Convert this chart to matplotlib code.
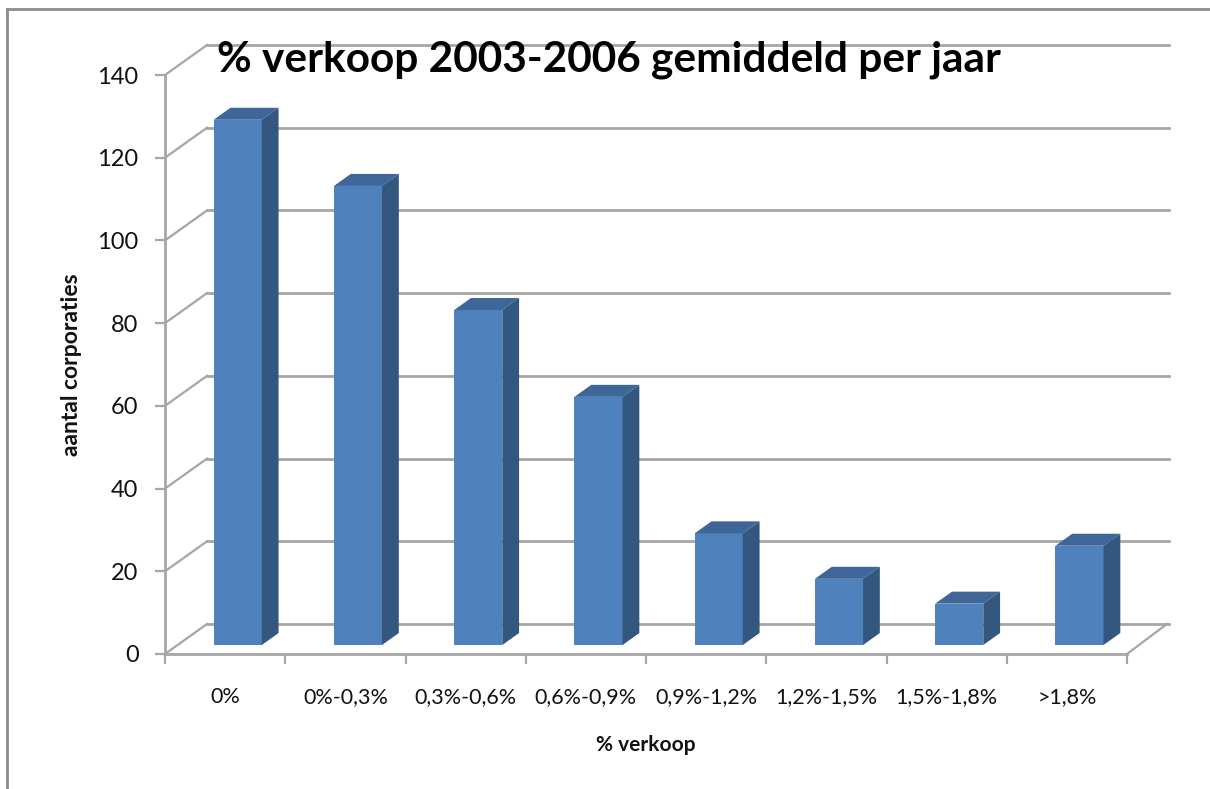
import matplotlib
matplotlib.use("Agg")
import matplotlib.pyplot as plt
from matplotlib.patches import Polygon
from matplotlib.lines import Line2D
import numpy as np

# ---- data ----
categories = ["0%", "0%-0,3%", "0,3%-0,6%", "0,6%-0,9%", "0,9%-1,2%",
              "1,2%-1,5%", "1,5%-1,8%", ">1,8%"]
values = [127, 111, 81, 60, 27, 16, 10, 24]
yticks = [0, 20, 40, 60, 80, 100, 120, 140]
title = "% verkoop 2003-2006 gemiddeld per jaar"
xlabel = "% verkoop"
ylabel = "aantal corporaties"

# ---- style ----
FONT = ["Lato", "DejaVu Sans"]
plt.rcParams["font.family"] = FONT
W, H = 1210, 789
DPI = 100
front_c = "#4F81BD"
side_c = "#34577F"
top_c = "#3E6698"
grid_c = "#A6A6A6"
txt_c = "#111111"

fig = plt.figure(figsize=(W / DPI, H / DPI), dpi=DPI)
fig.patch.set_facecolor("white")

# axes in pixel layout (front plane)
L, R, B, T = 165, 1127, 654, 75
ax = fig.add_axes([L / W, 1 - B / H, (R - L) / W, (B - T) / H])
ax.set_xlim(0, len(categories))
ax.set_ylim(0, 140)
ax.set_facecolor("none")

px_x = (R - L) / len(categories)
px_y = (B - T) / 140.0
# depth of back wall in data units
dxw = 42 / px_x
dyw = 30 / px_y

# back wall gridlines + left wall diagonals
for yv in yticks:
    ax.add_line(Line2D([dxw, len(categories) + dxw], [yv + dyw, yv + dyw],
                       color=grid_c, lw=2.0, clip_on=False, zorder=1))
    ax.add_line(Line2D([0, dxw], [yv, yv + dyw], color=grid_c, lw=1.6,
                       clip_on=False, zorder=1))
# floor right edge
ax.add_line(Line2D([len(categories), len(categories) + dxw * 0.95], [0, dyw],
                   color=grid_c, lw=1.6, clip_on=False, zorder=1))

# bars (3D look)
x = np.arange(len(categories)) + 0.5
bw = 0.4
f0, f1 = 0.3, 0.7
bottom = f0 * dyw
ddx, ddy = (f1 - f0) * dxw, (f1 - f0) * dyw
ax.bar(x + f0 * dxw, values, width=bw, bottom=bottom, color=front_c,
       edgecolor="none", zorder=3)
for xi, v in zip(x + f0 * dxw, values):
    xl, xr = xi - bw / 2, xi + bw / 2
    top = bottom + v
    ax.add_patch(Polygon([(xl, top), (xr, top), (xr + ddx, top + ddy),
                          (xl + ddx, top + ddy)], closed=True,
                         facecolor=top_c, edgecolor="none", zorder=3,
                         clip_on=False))
    ax.add_patch(Polygon([(xr, bottom), (xr, top), (xr + ddx, top + ddy),
                          (xr + ddx, bottom + ddy)], closed=True,
                         facecolor=side_c, edgecolor="none", zorder=3,
                         clip_on=False))

# spines / ticks
for s in ["top", "right"]:
    ax.spines[s].set_visible(False)
for s in ["left", "bottom"]:
    ax.spines[s].set_color(grid_c)
    ax.spines[s].set_linewidth(2.0)
ax.set_yticks(yticks)
ax.set_yticklabels([str(t) for t in yticks], fontsize=17, color=txt_c)
ax.tick_params(axis="y", length=7, width=1.6, color=grid_c, pad=12)
ax.set_xticks(np.arange(len(categories) + 1))
ax.set_xticklabels([])
ax.tick_params(axis="x", which="major", length=7, width=1.6, color=grid_c)
ax.set_xticks(x, minor=True)
ax.set_xticklabels(categories, minor=True, fontsize=15.5, color=txt_c)
ax.tick_params(axis="x", which="minor", length=0, pad=24)

ax.set_xlabel(xlabel, fontsize=15, fontweight="bold", labelpad=20, color=txt_c)
ax.set_ylabel(ylabel, fontsize=16.5, fontweight="bold", labelpad=11, color=txt_c)

fig.text(609 / W, 1 - 60 / H, title, fontsize=30.5, fontweight="bold",
         ha="center", va="center", color="black")

# chart-area border
fig.add_artist(Line2D([7 / W, 7 / W], [0, 1 - 9 / H], transform=fig.transFigure,
                      color="#8C8C8C", lw=2))
fig.add_artist(Line2D([7 / W, 1], [1 - 9 / H, 1 - 9 / H],
                      transform=fig.transFigure, color="#8C8C8C", lw=2))

fig.savefig("out.png", dpi=DPI)
